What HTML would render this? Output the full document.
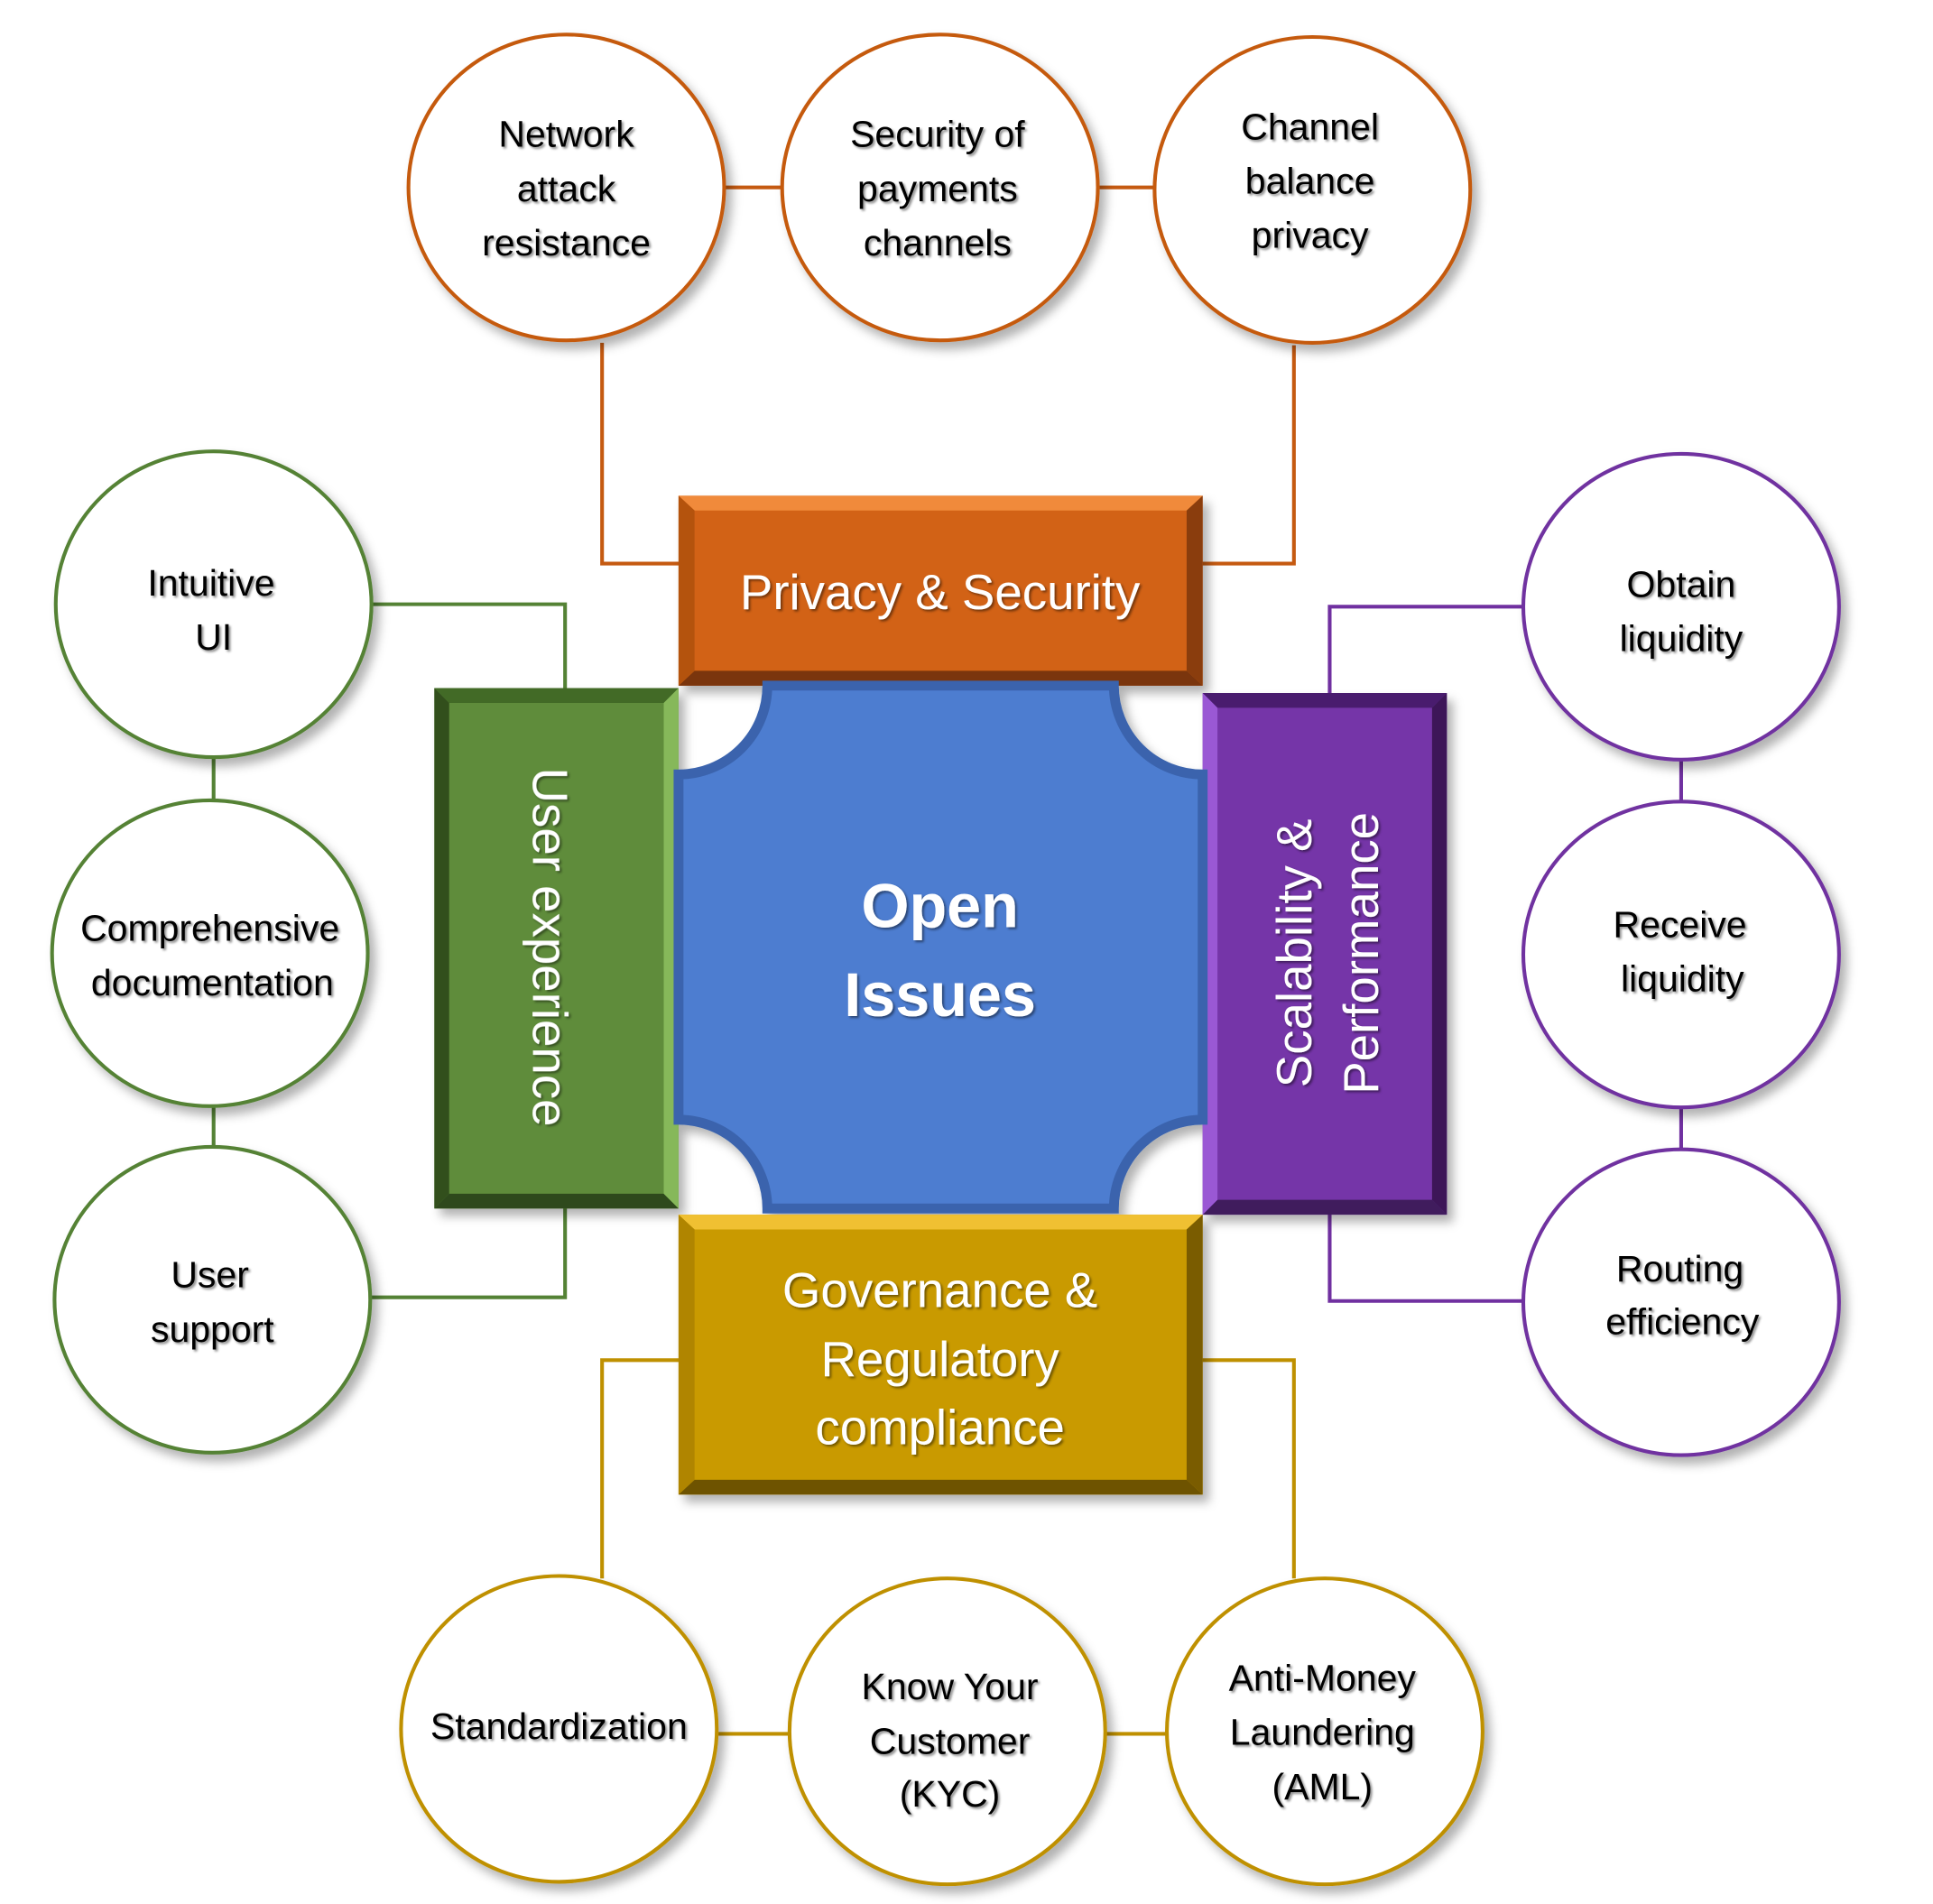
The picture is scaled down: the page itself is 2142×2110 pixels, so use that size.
<!DOCTYPE html>
<html><head><meta charset="utf-8"><style>
html,body{margin:0;padding:0;background:#fff}
svg{display:block}
text{font-family:"Liberation Sans",sans-serif}
</style></head><body>
<svg width="2142" height="2110" viewBox="0 0 1567 1544" xmlns="http://www.w3.org/2000/svg">
<defs>
<filter id="sh" x="-20%" y="-20%" width="150%" height="150%"><feDropShadow dx="5" dy="6" stdDeviation="4" flood-color="#000" flood-opacity="0.3"/></filter>
<filter id="ts"><feDropShadow dx="1.5" dy="1.5" stdDeviation="1" flood-color="#000" flood-opacity="0.45"/></filter>
</defs>
<g fill="none" stroke-width="3">
<g stroke="#c55a11">
<line x1="587" y1="152" x2="634" y2="152"/><line x1="889" y1="152" x2="936" y2="152"/>
<polyline points="488,278 488,457 552,457"/><polyline points="1049,280 1049,457 973,457"/>
</g>
<g stroke="#548235">
<line x1="173" y1="614" x2="173" y2="650"/><line x1="173" y1="897" x2="173" y2="930"/>
<polyline points="302,490 458,490 458,558"/><polyline points="300,1052 458,1052 458,978"/>
</g>
<g stroke="#7030a0">
<line x1="1363" y1="616" x2="1363" y2="650"/><line x1="1363" y1="897" x2="1363" y2="932"/>
<polyline points="1236,492 1078,492 1078,564"/><polyline points="1236,1055 1078,1055 1078,983"/>
</g>
<g stroke="#bf9000">
<line x1="580" y1="1406" x2="641" y2="1406"/><line x1="896" y1="1406" x2="948" y2="1406"/>
<polyline points="488,1280 488,1103 552,1103"/><polyline points="1049,1280 1049,1103 973,1103"/>
</g>
</g>
<g fill="#fff" stroke-width="3" filter="url(#sh)">
<g stroke="#c55a11"><ellipse cx="459" cy="152" rx="128" ry="124"/><ellipse cx="762" cy="152" rx="128" ry="124"/><ellipse cx="1064" cy="154" rx="128" ry="124"/></g>
<g stroke="#548235"><ellipse cx="173" cy="490" rx="128" ry="124"/><ellipse cx="170" cy="773" rx="128" ry="124"/><ellipse cx="172" cy="1054" rx="128" ry="124"/></g>
<g stroke="#7030a0"><ellipse cx="1363" cy="492" rx="128" ry="124"/><ellipse cx="1363" cy="774" rx="128" ry="124"/><ellipse cx="1363" cy="1056" rx="128" ry="124"/></g>
<g stroke="#bf9000"><ellipse cx="453" cy="1402" rx="128" ry="124"/><ellipse cx="768" cy="1404" rx="128" ry="124"/><ellipse cx="1074" cy="1404" rx="128" ry="124"/></g>
</g>
<g font-size="30" fill="#000" text-anchor="middle" filter="url(#ts)">
<text x="459" y="119">Network</text><text x="459" y="163">attack</text><text x="459" y="207">resistance</text>
<text x="760" y="119">Security of</text><text x="760" y="163">payments</text><text x="760" y="207">channels</text>
<text x="1062" y="113">Channel</text><text x="1062" y="157">balance</text><text x="1062" y="201">privacy</text>
<text x="171" y="483">Intuitive</text><text x="173" y="527">UI</text>
<text x="170" y="763">Comprehensive</text><text x="172" y="807">documentation</text>
<text x="170" y="1044">User</text><text x="172" y="1088">support</text>
<text x="1363" y="484">Obtain</text><text x="1363" y="528">liquidity</text>
<text x="1362" y="760">Receive</text><text x="1364" y="804">liquidity</text>
<text x="1362" y="1039">Routing</text><text x="1364" y="1082">efficiency</text>
<text x="453" y="1410">Standardization</text>
<text x="770" y="1378">Know Your</text><text x="770" y="1422">Customer</text><text x="770" y="1465">(KYC)</text>
<text x="1072" y="1371">Anti-Money</text><text x="1072" y="1415">Laundering</text><text x="1072" y="1459">(AML)</text>
</g>
<g filter="url(#sh)">
<rect x="550" y="402" width="425" height="154" fill="#d26214"/>
<polygon points="550,402 975,402 962,414 563,414" fill="#f08a3a"/>
<polygon points="550,556 975,556 962,544 563,544" fill="#7a3508"/>
<polygon points="975,402 975,556 962,544 962,414" fill="#8a3c0a"/>
<polygon points="550,402 550,556 563,544 563,414" fill="#b4520f"/>
<rect x="352" y="558" width="198" height="422" fill="#5e8c3a"/>
<polygon points="352,558 550,558 538,570 364,570" fill="#436a27"/>
<polygon points="352,980 550,980 538,968 364,968" fill="#2e4a1b"/>
<polygon points="352,558 352,980 364,968 364,570" fill="#32501e"/>
<polygon points="550,558 550,980 538,968 538,570" fill="#86b85a"/>
<rect x="975" y="562" width="198" height="423" fill="#7535a8"/>
<polygon points="975,562 1173,562 1161,574 987,574" fill="#4a1f6e"/>
<polygon points="975,985 1173,985 1161,973 987,973" fill="#3f1a5d"/>
<polygon points="975,562 975,985 987,973 987,574" fill="#9a58d4"/>
<polygon points="1173,562 1173,985 1161,973 1161,574" fill="#3c1958"/>
<rect x="550" y="985" width="425" height="227" fill="#c99a06"/>
<polygon points="550,985 975,985 962,997 563,997" fill="#f0c030"/>
<polygon points="550,1212 975,1212 962,1200 563,1200" fill="#6e5300"/>
<polygon points="975,985 975,1212 962,1200 962,997" fill="#7a5c00"/>
<polygon points="550,985 550,1212 563,1200 563,997" fill="#b08500"/>
<path d="M622,556 L903,556 A72 72 0 0 0 975,628 L975,908 A72 72 0 0 0 903,980 L622,980 A72 72 0 0 0 550,908 L550,628 A72 72 0 0 0 622,556 Z" fill="#4e7dd0" stroke="#3a64ad" stroke-width="8"/>
</g>
<g fill="#fff" text-anchor="middle" filter="url(#ts)">
<text x="762" y="494" font-size="40">Privacy &amp; Security</text>
<text x="762" y="1060" font-size="40">Governance &amp;</text>
<text x="762" y="1116" font-size="40">Regulatory</text>
<text x="762" y="1171" font-size="40">compliance</text>
<text x="762" y="752" font-size="50" font-weight="bold">Open</text>
<text x="762" y="824" font-size="50" font-weight="bold">Issues</text>
<text transform="translate(432,768) rotate(90)" font-size="40">User experience</text>
<text transform="translate(1063,773) rotate(-90)" font-size="40">Scalability &amp;</text>
<text transform="translate(1117,773) rotate(-90)" font-size="40">Performance</text>
</g>
</svg>
</body></html>
